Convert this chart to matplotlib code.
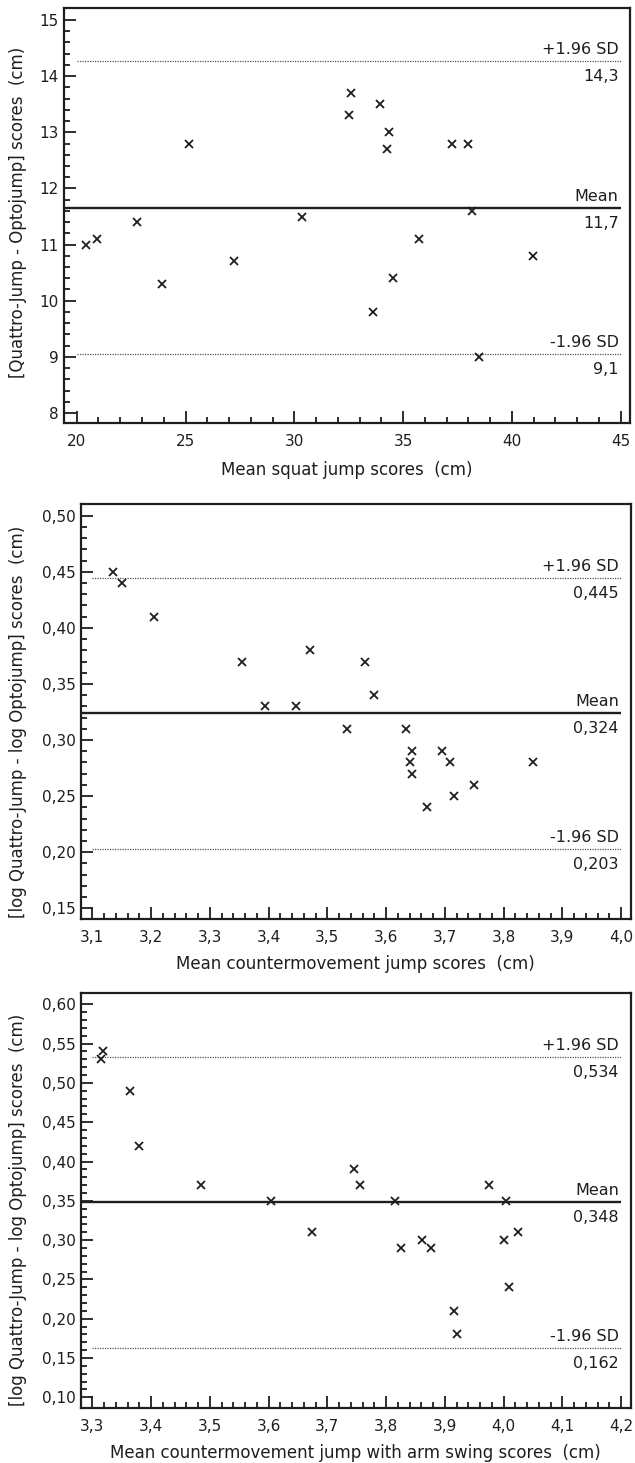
import numpy as np
import matplotlib
matplotlib.use('Agg')
import matplotlib.pyplot as plt
from matplotlib.ticker import FixedLocator

plt.rcParams['font.family'] = ['DejaVu Sans']

W, H = 635, 1463

# squat jump
sj_x = [20.41, 20.93, 22.78, 23.92, 25.14, 27.22, 30.34, 32.53, 32.62, 33.60,
        33.92, 34.24, 34.37, 34.55, 35.72, 37.26, 37.98, 38.15, 38.47, 40.95]
sj_y = [11.0, 11.1, 11.4, 10.3, 12.8, 10.7, 11.5, 13.3, 13.7, 9.8,
        13.5, 12.7, 13.0, 10.4, 11.1, 12.8, 12.8, 11.6, 9.0, 10.8]
sj_mean, sj_upper, sj_lower = 11.66, 14.27, 9.05
sj_texts = ["11,7", "14,3", "9,1"]
sj_xticks = [20, 25, 30, 35, 40, 45]
sj_xticklabels = ["20", "25", "30", "35", "40", "45"]
sj_yticks = [8, 9, 10, 11, 12, 13, 14, 15]
sj_yticklabels = ["8", "9", "10", "11", "12", "13", "14", "15"]

# countermovement jump
cmj_x = [3.135, 3.150, 3.205, 3.355, 3.394, 3.446, 3.470, 3.534, 3.565, 3.580,
         3.634, 3.640, 3.644, 3.644, 3.670, 3.695, 3.709, 3.715, 3.750, 3.850]
cmj_y = [0.45, 0.44, 0.41, 0.37, 0.33, 0.33, 0.38, 0.31, 0.37, 0.34,
         0.31, 0.28, 0.29, 0.27, 0.24, 0.29, 0.28, 0.25, 0.26, 0.28]
cmj_mean, cmj_upper, cmj_lower = 0.3245, 0.4447, 0.2032
cmj_texts = ["0,324", "0,445", "0,203"]
cmj_xticks = [3.1, 3.2, 3.3, 3.4, 3.5, 3.6, 3.7, 3.8, 3.9, 4.0]
cmj_xticklabels = ["3,1", "3,2", "3,3", "3,4", "3,5", "3,6", "3,7", "3,8", "3,9", "4,0"]
cmj_yticks = [0.15, 0.20, 0.25, 0.30, 0.35, 0.40, 0.45, 0.50]
cmj_yticklabels = ["0,15", "0,20", "0,25", "0,30", "0,35", "0,40", "0,45", "0,50"]

# countermovement jump with arm swing
cmjas_x = [3.315, 3.319, 3.364, 3.380, 3.485, 3.605, 3.674, 3.745, 3.755, 3.816,
           3.825, 3.861, 3.876, 3.915, 3.920, 3.975, 4.000, 4.004, 4.010, 4.024]
cmjas_y = [0.53, 0.54, 0.49, 0.42, 0.37, 0.35, 0.31, 0.39, 0.37, 0.35,
           0.29, 0.30, 0.29, 0.21, 0.18, 0.37, 0.30, 0.35, 0.24, 0.31]
cmjas_mean, cmjas_upper, cmjas_lower = 0.348, 0.5335, 0.1627
cmjas_texts = ["0,348", "0,534", "0,162"]
cmjas_xticks = [3.3, 3.4, 3.5, 3.6, 3.7, 3.8, 3.9, 4.0, 4.1, 4.2]
cmjas_xticklabels = ["3,3", "3,4", "3,5", "3,6", "3,7", "3,8", "3,9", "4,0", "4,1", "4,2"]
cmjas_yticks = [0.10, 0.15, 0.20, 0.25, 0.30, 0.35, 0.40, 0.45, 0.50, 0.55, 0.60]
cmjas_yticklabels = ["0,10", "0,15", "0,20", "0,25", "0,30", "0,35", "0,40",
                     "0,45", "0,50", "0,55", "0,60"]

INK = '#1e1e1e'
PX = 0.72  # points per pixel at dpi 100


def bland_altman(fig, box, origin_px, end_px, xs, ys, mean, upper, lower, texts,
                 xticks, xticklabels, yticks, yticklabels, xminor, yminor,
                 xlabel, ylabel, xlabel_top, ylabel_mid):
    l, t, r, b = box
    ax = fig.add_axes([l / W, 1 - b / H, (r - l) / W, (b - t) / H])
    ox, oy = origin_px
    ex, ey = end_px
    x0, x1 = xticks[0], xticks[-1]
    y0, y1 = yticks[0], yticks[-1]
    sx = (x1 - x0) / (ex - ox)
    sy = (y1 - y0) / (oy - ey)
    xlo = x0 - (ox - l) * sx
    ax.set_xlim(xlo, x1 + (r - ex) * sx)
    ax.set_ylim(y0 - (b - oy) * sy, y1 + (ey - t) * sy)

    for s in ax.spines.values():
        s.set_linewidth(1.6)
        s.set_color(INK)

    ax.set_xticks(xticks)
    ax.set_xticklabels(xticklabels)
    ax.set_yticks(yticks)
    ax.set_yticklabels(yticklabels)
    ax.xaxis.set_minor_locator(FixedLocator(np.round(np.arange(x0, x1 + xminor / 2, xminor), 4)))
    ax.yaxis.set_minor_locator(FixedLocator(np.round(np.arange(y0, y1 + yminor / 2, yminor), 4)))
    ax.tick_params(which='major', direction='in', length=12 * PX, width=1.3,
                   color=INK, labelsize=11, labelcolor=INK)
    ax.tick_params(which='minor', direction='in', length=6 * PX, width=1.3, color=INK)
    ax.tick_params(axis='y', which='major', pad=5 * PX)
    ax.tick_params(axis='x', which='major', pad=11 * PX)

    ax.plot([xlo, x1], [mean, mean], color=INK, lw=1.7, solid_capstyle='butt', zorder=3)
    for v in (upper, lower):
        ax.plot([x0, x1], [v, v], color='#555555', lw=0.9, ls=(0, (1, 1)), zorder=3)
    ax.plot(xs, ys, ls='none', marker='x', ms=5.8, mew=1.3, color=INK, zorder=4)

    names = ["Mean", "+1.96 SD", "-1.96 SD"]
    for name, txt, v in zip(names, texts, (mean, upper, lower)):
        ax.annotate(name, xy=(x1, v), xytext=(-2, 4), textcoords='offset pixels',
                    ha='right', va='bottom', fontsize=11.5, color=INK)
        ax.annotate(txt, xy=(x1, v), xytext=(-2, -8), textcoords='offset pixels',
                    ha='right', va='top', fontsize=11.5, color=INK)

    ax.set_xlabel(xlabel, fontsize=12, color=INK)
    ax.set_ylabel(ylabel, fontsize=12, color=INK)
    ax.xaxis.set_label_coords(0.5, (b - xlabel_top) / (b - t))
    ax.yaxis.set_label_coords((27 - l) / (r - l), (b - ylabel_mid) / (b - t))
    return ax


fig = plt.figure(figsize=(W / 100, H / 100), dpi=100)

bland_altman(fig, (64, 8.3, 630, 423.3), (76.7, 413), (620.7, 20), sj_x, sj_y,
             sj_mean, sj_upper, sj_lower, sj_texts,
             sj_xticks, sj_xticklabels, sj_yticks, sj_yticklabels, 1, 0.2,
             "Mean squat jump scores  (cm)",
             "[Quattro-Jump - Optojump] scores  (cm)", 461, 212)

bland_altman(fig, (80.7, 504, 631, 919), (92.3, 908.3), (621, 515.7), cmj_x, cmj_y,
             cmj_mean, cmj_upper, cmj_lower, cmj_texts,
             cmj_xticks, cmj_xticklabels, cmj_yticks, cmj_yticklabels, 0.02, 0.01,
             "Mean countermovement jump scores  (cm)",
             "[log Quattro-Jump - log Optojump] scores  (cm)", 955, 722)

bland_altman(fig, (80.7, 992.7, 631, 1408.3), (92.3, 1397.3), (621, 1004.3), cmjas_x, cmjas_y,
             cmjas_mean, cmjas_upper, cmjas_lower, cmjas_texts,
             cmjas_xticks, cmjas_xticklabels, cmjas_yticks, cmjas_yticklabels, 0.02, 0.01,
             "Mean countermovement jump with arm swing scores  (cm)",
             "[log Quattro-Jump - log Optojump] scores  (cm)", 1444, 1210)

fig.savefig('out.png', dpi=100, facecolor='white')
